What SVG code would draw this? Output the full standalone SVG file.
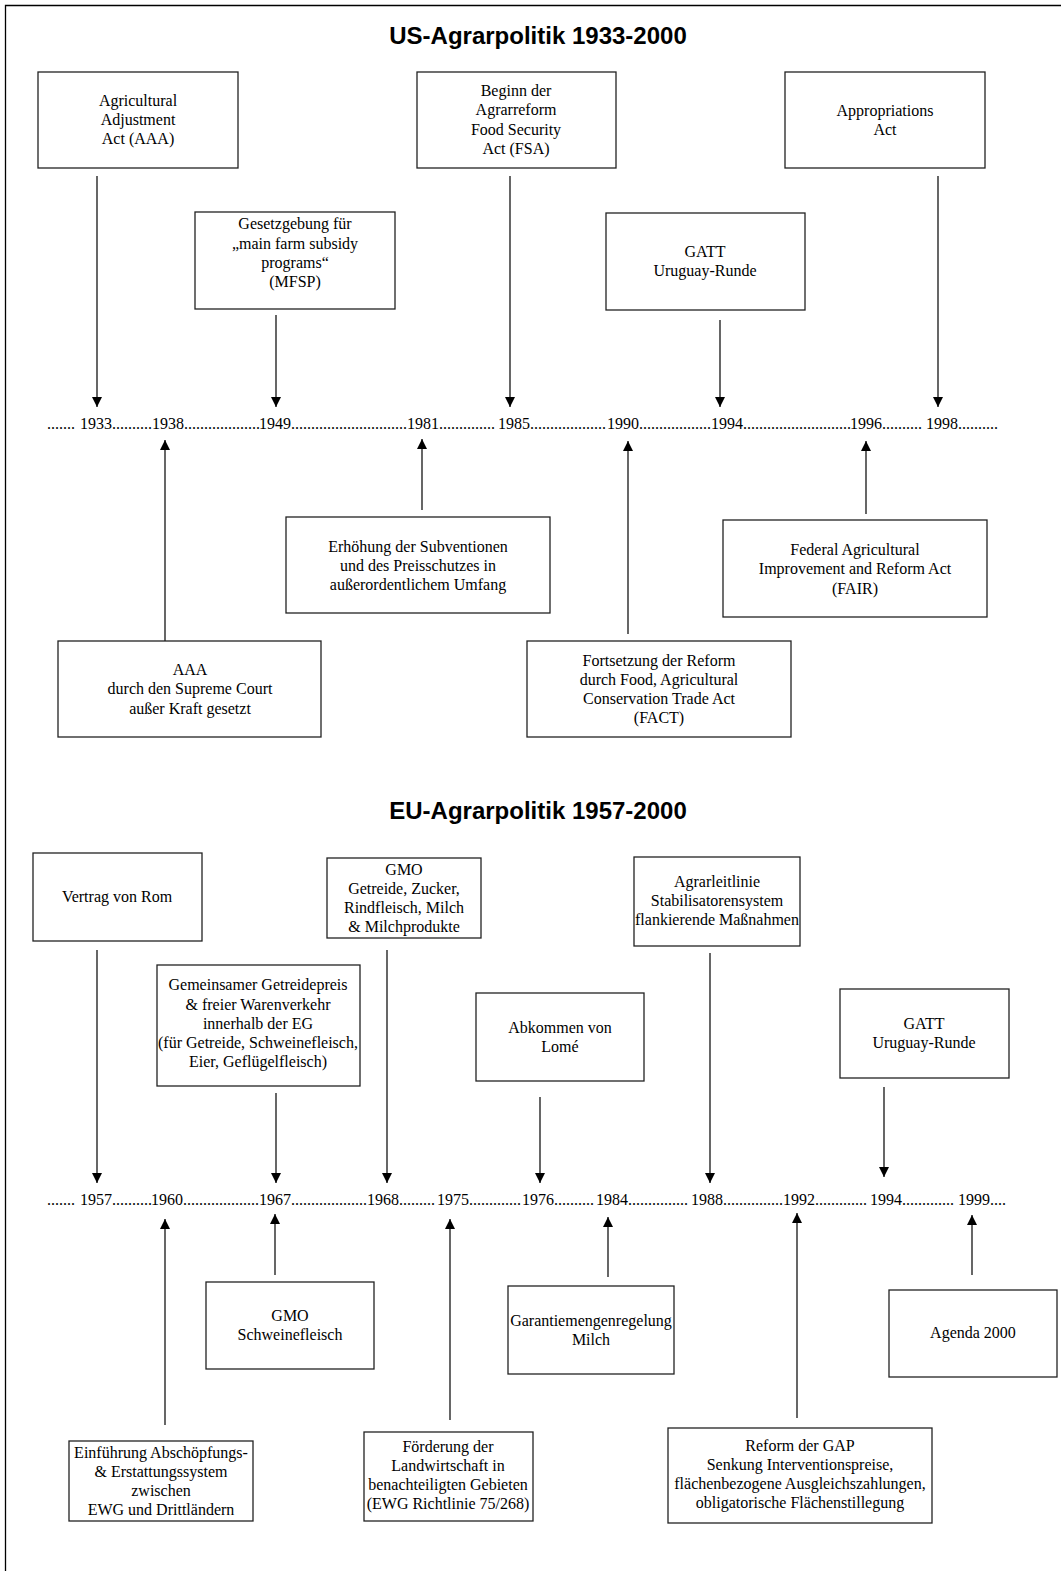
<svg xmlns="http://www.w3.org/2000/svg" width="1061" height="1571" viewBox="0 0 1061 1571">
<defs>
<marker id="ah" markerUnits="userSpaceOnUse" markerWidth="10" markerHeight="11" viewBox="0 0 10 11" refX="10" refY="5" orient="auto">
<path d="M0,0 L10,5 L0,10 Z" fill="#000"/>
</marker>
<style>
.box{fill:#fff;stroke:#222;stroke-width:1.3}
.t{font-family:"Liberation Serif","Times New Roman",serif;font-size:16px;fill:#000;text-anchor:middle}
.tl{font-family:"Liberation Serif","Times New Roman",serif;font-size:16px;fill:#000}
.title{font-family:"Liberation Sans",Arial,sans-serif;font-size:24px;font-weight:bold;fill:#000;text-anchor:middle}
.c{stroke:#000;stroke-width:1.2;fill:none;marker-end:url(#ah)}
</style>
</defs>
<rect width="1061" height="1571" fill="#fff"/>
<path d="M5.5,1571 L5.5,5.5 L1061,5.5" fill="none" stroke="#000" stroke-width="1.3"/>

<text class="title" x="538" y="44">US-Agrarpolitik 1933-2000</text>
<text class="title" x="538" y="819">EU-Agrarpolitik 1957-2000</text>

<g id="timeline-us">
<text class="tl" y="429"><tspan x="47">....... </tspan><tspan x="80">1933</tspan><tspan x="112">..........</tspan><tspan x="152">1938</tspan><tspan x="184">...................</tspan><tspan x="259">1949</tspan><tspan x="291">.............................</tspan><tspan x="407">1981</tspan><tspan x="439">..............</tspan><tspan x="498">1985</tspan><tspan x="530">...................</tspan><tspan x="607">1990</tspan><tspan x="639">..................</tspan><tspan x="711">1994</tspan><tspan x="743">...........................</tspan><tspan x="850">1996</tspan><tspan x="882">..........</tspan><tspan x="926">1998</tspan><tspan x="958">..........</tspan></text>
</g>
<g id="timeline-eu">
<text class="tl" y="1205"><tspan x="47">....... </tspan><tspan x="80">1957</tspan><tspan x="112">..........</tspan><tspan x="151">1960</tspan><tspan x="183">...................</tspan><tspan x="259">1967</tspan><tspan x="291">...................</tspan><tspan x="367">1968</tspan><tspan x="399">.........</tspan><tspan x="437">1975</tspan><tspan x="469">.............</tspan><tspan x="522">1976</tspan><tspan x="554">..........</tspan><tspan x="596">1984</tspan><tspan x="628">...............</tspan><tspan x="691">1988</tspan><tspan x="723">...............</tspan><tspan x="783">1992</tspan><tspan x="815">.............</tspan><tspan x="870">1994</tspan><tspan x="902">.............</tspan><tspan x="958">1999</tspan><tspan x="990">....</tspan></text>
</g>

<g id="connectors">
<line class="c" x1="97" y1="176" x2="97" y2="407"/>
<line class="c" x1="276" y1="315" x2="276" y2="407"/>
<line class="c" x1="510" y1="176" x2="510" y2="407"/>
<line class="c" x1="720" y1="320" x2="720" y2="407"/>
<line class="c" x1="938" y1="176" x2="938" y2="407"/>
<line class="c" x1="165" y1="641" x2="165" y2="440"/>
<line class="c" x1="422" y1="510" x2="422" y2="439"/>
<line class="c" x1="628" y1="634" x2="628" y2="441"/>
<line class="c" x1="866" y1="514" x2="866" y2="441"/>

<line class="c" x1="97" y1="950" x2="97" y2="1183"/>
<line class="c" x1="276" y1="1093" x2="276" y2="1183"/>
<line class="c" x1="387" y1="950" x2="387" y2="1183"/>
<line class="c" x1="540" y1="1097" x2="540" y2="1183"/>
<line class="c" x1="710" y1="953" x2="710" y2="1183"/>
<line class="c" x1="884" y1="1087" x2="884" y2="1177"/>
<line class="c" x1="165" y1="1425" x2="165" y2="1219"/>
<line class="c" x1="275" y1="1275" x2="275" y2="1214"/>
<line class="c" x1="450" y1="1420" x2="450" y2="1219"/>
<line class="c" x1="608" y1="1277" x2="608" y2="1217"/>
<line class="c" x1="797" y1="1418" x2="797" y2="1213"/>
<line class="c" x1="972" y1="1275" x2="972" y2="1215"/>
</g>

<g id="us-aaa"><rect class="box" x="38" y="72" width="200" height="96"/>
<text class="t" x="138" y="106">Agricultural</text><text class="t" x="138" y="125">Adjustment</text><text class="t" x="138" y="144">Act (AAA)</text></g>
<g id="us-mfsp"><rect class="box" x="195" y="212" width="200" height="97"/>
<text class="t" x="295" y="229">Gesetzgebung für</text><text class="t" x="295" y="249">„main farm subsidy</text><text class="t" x="295" y="268">programs“</text><text class="t" x="295" y="287">(MFSP)</text></g>
<g id="us-fsa"><rect class="box" x="417" y="72" width="199" height="96"/>
<text class="t" x="516" y="96">Beginn der</text><text class="t" x="516" y="115">Agrarreform</text><text class="t" x="516" y="135">Food Security</text><text class="t" x="516" y="154">Act (FSA)</text></g>
<g id="us-gatt"><rect class="box" x="606" y="213" width="199" height="97"/>
<text class="t" x="705" y="257">GATT</text><text class="t" x="705" y="276">Uruguay-Runde</text></g>
<g id="us-appropriations"><rect class="box" x="785" y="72" width="200" height="96"/>
<text class="t" x="885" y="116">Appropriations</text><text class="t" x="885" y="135">Act</text></g>
<g id="us-erhoehung"><rect class="box" x="286" y="517" width="264" height="96"/>
<text class="t" x="418" y="552">Erhöhung der Subventionen</text><text class="t" x="418" y="571">und des Preisschutzes in</text><text class="t" x="418" y="590">außerordentlichem Umfang</text></g>
<g id="us-fair"><rect class="box" x="723" y="520" width="264" height="97"/>
<text class="t" x="855" y="555">Federal Agricultural</text><text class="t" x="855" y="574">Improvement and Reform Act</text><text class="t" x="855" y="594">(FAIR)</text></g>
<g id="us-court"><rect class="box" x="58" y="641" width="263" height="96"/>
<text class="t" x="190" y="675">AAA</text><text class="t" x="190" y="694">durch den Supreme Court</text><text class="t" x="190" y="714">außer Kraft gesetzt</text></g>
<g id="us-fact"><rect class="box" x="527" y="641" width="264" height="96"/>
<text class="t" x="659" y="666">Fortsetzung der Reform</text><text class="t" x="659" y="685">durch Food, Agricultural</text><text class="t" x="659" y="704">Conservation Trade Act</text><text class="t" x="659" y="723">(FACT)</text></g>

<g id="eu-rom"><rect class="box" x="33" y="853" width="169" height="88"/>
<text class="t" x="117" y="902">Vertrag von Rom</text></g>
<g id="eu-gmo1"><rect class="box" x="327" y="858" width="154" height="80"/>
<text class="t" x="404" y="875">GMO</text><text class="t" x="404" y="894">Getreide, Zucker,</text><text class="t" x="404" y="913">Rindfleisch, Milch</text><text class="t" x="404" y="932">&amp; Milchprodukte</text></g>
<g id="eu-getreidepreis"><rect class="box" x="157" y="965" width="203" height="121"/>
<text class="t" x="258" y="990">Gemeinsamer Getreidepreis</text><text class="t" x="258" y="1010">&amp; freier Warenverkehr</text><text class="t" x="258" y="1029">innerhalb der EG</text><text class="t" x="258" y="1048">(für Getreide, Schweinefleisch,</text><text class="t" x="258" y="1067">Eier, Geflügelfleisch)</text></g>
<g id="eu-agrarleitlinie"><rect class="box" x="634" y="857" width="166" height="89"/>
<text class="t" x="717" y="887">Agrarleitlinie</text><text class="t" x="717" y="906">Stabilisatorensystem</text><text class="t" x="717" y="925">flankierende Maßnahmen</text></g>
<g id="eu-lome"><rect class="box" x="476" y="993" width="168" height="88"/>
<text class="t" x="560" y="1033">Abkommen von</text><text class="t" x="560" y="1052">Lomé</text></g>
<g id="eu-gatt"><rect class="box" x="840" y="989" width="169" height="89"/>
<text class="t" x="924" y="1029">GATT</text><text class="t" x="924" y="1048">Uruguay-Runde</text></g>
<g id="eu-gmo2"><rect class="box" x="206" y="1282" width="168" height="87"/>
<text class="t" x="290" y="1321">GMO</text><text class="t" x="290" y="1340">Schweinefleisch</text></g>
<g id="eu-milch"><rect class="box" x="508" y="1286" width="166" height="88"/>
<text class="t" x="591" y="1326">Garantiemengenregelung</text><text class="t" x="591" y="1345">Milch</text></g>
<g id="eu-agenda"><rect class="box" x="889" y="1290" width="168" height="87"/>
<text class="t" x="973" y="1338">Agenda 2000</text></g>
<g id="eu-abschoepfung"><rect class="box" x="69" y="1441" width="184" height="80"/>
<text class="t" x="161" y="1458">Einführung Abschöpfungs-</text><text class="t" x="161" y="1477">&amp; Erstattungssystem</text><text class="t" x="161" y="1496">zwischen</text><text class="t" x="161" y="1515">EWG und Drittländern</text></g>
<g id="eu-foerderung"><rect class="box" x="364" y="1432" width="169" height="89"/>
<text class="t" x="448" y="1452">Förderung der</text><text class="t" x="448" y="1471">Landwirtschaft in</text><text class="t" x="448" y="1490">benachteiligten Gebieten</text><text class="t" x="448" y="1509">(EWG Richtlinie 75/268)</text></g>
<g id="eu-gap"><rect class="box" x="668" y="1428" width="264" height="95"/>
<text class="t" x="800" y="1451">Reform der GAP</text><text class="t" x="800" y="1470">Senkung Interventionspreise,</text><text class="t" x="800" y="1489">flächenbezogene Ausgleichszahlungen,</text><text class="t" x="800" y="1508">obligatorische Flächenstillegung</text></g>
</svg>
